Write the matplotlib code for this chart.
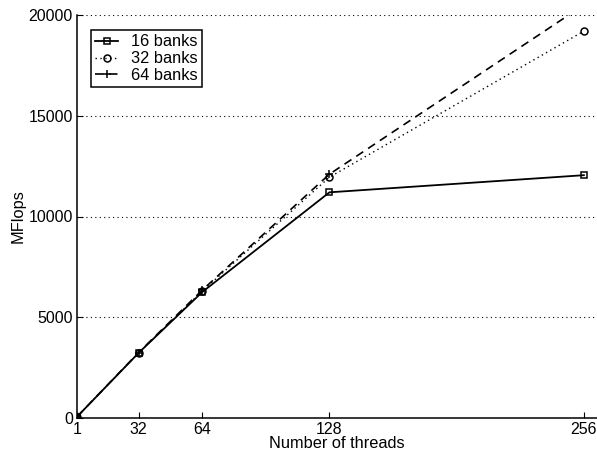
import numpy as np
import matplotlib
matplotlib.use('Agg')
import matplotlib.pyplot as plt

plt.rcParams['font.family'] = ['Liberation Sans', 'DejaVu Sans']

# data
threads = [1, 32, 64, 128, 256]
banks16 = [60, 3230, 6250, 11200, 12050]
banks32 = [60, 3240, 6300, 11950, 19200]
banks64 = [60, 3250, 6350, 12100, 20500]
yticks = [0, 5000, 10000, 15000, 20000]

fig = plt.figure(figsize=(5.97, 4.59), dpi=100)
ax = fig.add_axes([77/597, 41/459, 520/597, 403/459])

ax.plot(threads, banks16, 'k-', marker='s', mfc='none', ms=5, mew=1.1, lw=1.3, label='16 banks')
ax.plot(threads, banks32, 'k', ls=(0, (1, 2.5)), marker='o', mfc='none', ms=5, mew=1.1, lw=1.0, label='32 banks')
ax.plot(threads, banks64, 'k', ls=(0, (5, 3.5)), marker='+', ms=6, mew=1.1, lw=1.2, label='64 banks')

ax.set_xlim(1, 262.6)
ax.set_ylim(0, 20000)
ax.set_xticks(threads)
ax.set_yticks(yticks)
for y in yticks[1:]:
    ax.axhline(y, color='k', ls=(0, (1, 3)), lw=0.8, zorder=0)

ax.spines['top'].set_visible(False)
ax.spines['right'].set_visible(False)
ax.spines['left'].set_linewidth(1.1)
ax.spines['bottom'].set_linewidth(1.1)
ax.tick_params(direction='in', length=4, labelsize=11.5, color='k', pad=3)
ax.set_xlabel('Number of threads', fontsize=11.8, labelpad=-1)
ax.set_ylabel('MFlops', fontsize=11.8, labelpad=2)

leg = ax.legend(loc='upper left', bbox_to_anchor=(6/520, 1 - 7/403), fontsize=11.8,
                handlelength=1.4, handletextpad=0.8, borderpad=0.25,
                labelspacing=0.12, fancybox=False, framealpha=1)
leg.get_frame().set_edgecolor('k')
leg.get_frame().set_linewidth(1.1)

plt.savefig('out.png', dpi=100)
